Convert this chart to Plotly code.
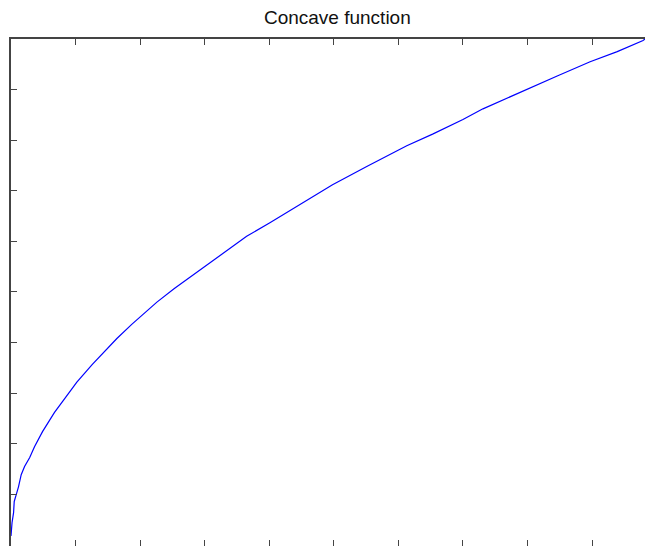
import plotly.graph_objects as go

# Data (x in axis units, y in axis units)
x_vals = [0.0, 0.016, 0.04, 0.05, 0.08, 0.116, 0.158, 0.21, 0.29, 0.364, 0.488, 0.566,
          0.674, 0.80, 1.02, 1.26, 1.64, 1.87, 1.96, 2.26, 2.53, 2.97, 3.39, 3.65,
          4.01, 4.43, 4.58, 4.98, 5.51, 5.98, 6.13, 6.53, 7.0, 7.31, 7.84, 8.04,
          8.46, 8.97, 9.39, 9.79, 9.82]
y_vals = [0.18, 0.44, 0.64, 0.86, 0.99, 1.15, 1.39, 1.55, 1.73, 1.94, 2.24, 2.41,
          2.62, 2.84, 3.22, 3.57, 4.08, 4.36, 4.46, 4.80, 5.07, 5.47, 5.86, 6.10,
          6.37, 6.69, 6.81, 7.12, 7.48, 7.79, 7.89, 8.12, 8.41, 8.62, 8.92, 9.04,
          9.27, 9.55, 9.75, 9.97, 10.0]
x_ticks = [1, 2, 3, 4, 5, 6, 7, 8, 9]
y_ticks = [1, 2, 3, 4, 5, 6, 7, 8, 9]
title_text = "Concave function"

fig = go.Figure()
fig.add_trace(go.Scatter(x=x_vals, y=y_vals, mode="lines",
                         line=dict(color="#0000ff", width=1.2),
                         hoverinfo="skip", showlegend=False))

axis_common = dict(showgrid=False, zeroline=False, showticklabels=False,
                   ticks="inside", ticklen=6, tickwidth=1, tickcolor="#444444",
                   showline=True, linecolor="#444444", linewidth=1.5)

fig.update_layout(
    width=645, height=546,
    margin=dict(l=11, r=0, t=39, b=0),
    paper_bgcolor="white", plot_bgcolor="white",
    title=dict(text=title_text, x=332 / 645, xanchor="center", xref="paper",
               y=1 - 17.5 / 546, yanchor="middle", yref="container",
               font=dict(family="Liberation Sans, Arial, sans-serif", size=19, color="#111111")),
    xaxis=dict(range=[0, 9.82], tickvals=x_ticks, mirror="ticks", **axis_common),
    yaxis=dict(range=[-0.02, 10], tickvals=y_ticks, mirror=False, **axis_common),
)

fig.write_html("out.html")
